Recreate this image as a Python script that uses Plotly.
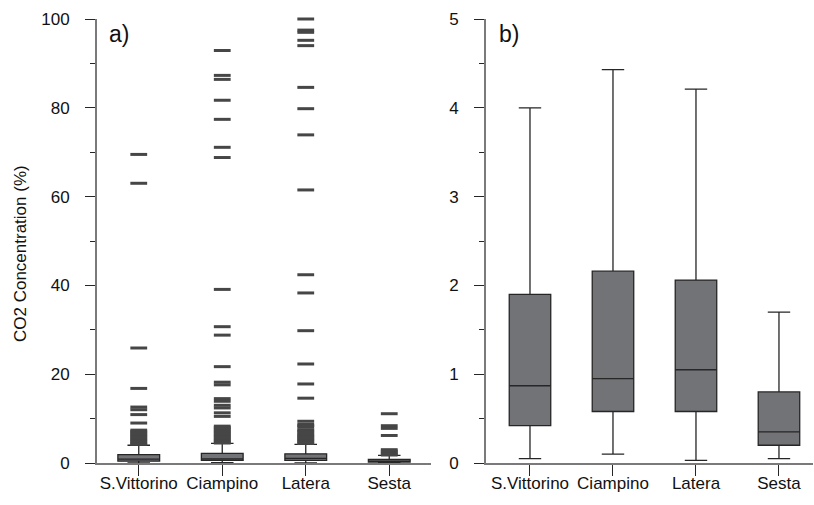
import plotly.graph_objects as go

sites = ["S.Vittorino", "Ciampino", "Latera", "Sesta"]

# box statistics (CO2 %)
q1 = [0.42, 0.58, 0.58, 0.20]
median = [0.87, 0.95, 1.05, 0.35]
q3 = [1.90, 2.16, 2.06, 0.80]
lower = [0.05, 0.10, 0.03, 0.05]
upper = [4.00, 4.43, 4.21, 1.70]

# outliers (panel a)
out_vittorino = [69.5, 63.0, 25.9, 16.8, 12.6, 12.0, 10.9, 9.0,
                 7.4, 7.1, 6.8, 6.5, 6.2, 5.9, 5.6, 5.3, 5.0, 4.7, 4.4, 4.2]
out_ciampino = [92.9, 87.3, 86.4, 81.7, 77.4, 71.1, 68.8, 39.1, 30.7, 28.8,
                21.7, 18.2, 17.6, 14.5, 13.9, 13.0, 12.4, 11.3, 10.5,
                8.3, 8.0, 7.7, 7.4, 7.1, 6.8, 6.5, 6.2, 5.9, 5.6, 5.3, 5.0, 4.7, 4.5]
out_latera = [100.0, 97.5, 97.0, 95.2, 94.0, 84.6, 79.8, 73.9, 61.5, 42.4, 38.3,
              29.8, 22.3, 17.8, 14.6, 9.4,
              8.7, 8.4, 8.1, 7.5, 7.2, 6.9, 6.5, 6.2, 5.9, 5.6, 5.3, 5.0, 4.7, 4.4]
out_sesta = [11.1, 8.4, 7.8, 6.2, 3.0, 2.7, 2.4, 2.1, 1.8]
outliers = [out_vittorino, out_ciampino, out_latera, out_sesta]

yticks_a = [0, 20, 40, 60, 80, 100]
yticks_b = [0, 1, 2, 3, 4, 5]

W, H = 814, 505
FONT = "Liberation Sans, Arial, sans-serif"
BOXFILL = "#727377"
LINE = "#262626"
AXIS = "#7a7a7a"
TXT = "#111111"

fig = go.Figure()

for xa, ya in [("x", "y"), ("x2", "y2")]:
    fig.add_trace(go.Box(
        x=sites, q1=q1, median=median, q3=q3,
        lowerfence=lower, upperfence=upper,
        width=0.5, whiskerwidth=0.54,
        fillcolor=BOXFILL, line=dict(color=LINE, width=1.3),
        boxpoints=False, showlegend=False, hoverinfo="skip",
        xaxis=xa, yaxis=ya,
    ))

for s, vals in zip(sites, outliers):
    fig.add_trace(go.Scatter(
        x=[s] * len(vals), y=vals, mode="markers",
        marker=dict(symbol="line-ew", size=12,
                    line=dict(color="#464646", width=3)),
        cliponaxis=False, showlegend=False, hoverinfo="skip",
        xaxis="x", yaxis="y",
    ))

xdom1 = [97 / W, 431 / W]
xdom2 = [486 / W, 813 / W]
ydom = [(H - 463) / H, (H - 19) / H]

common_x = dict(
    type="category", showline=True, linecolor=AXIS, linewidth=2,
    ticks="outside", ticklen=11, tickwidth=1.3, tickcolor=LINE,
    showgrid=False, zeroline=False, automargin=False,
    tickfont=dict(family=FONT, size=17, color=TXT),
    ticklabelstandoff=-7,
    categoryorder="array", categoryarray=sites,
)
common_y = dict(
    showline=True, linecolor=AXIS, linewidth=2,
    ticks="outside", ticklen=10, tickwidth=1.3, tickcolor=LINE,
    showgrid=False, zeroline=False, automargin=False,
    tickfont=dict(family=FONT, size=17, color=TXT),
    ticklabelstandoff=12,
)

fig.update_layout(
    width=W, height=H,
    margin=dict(l=0, r=0, t=0, b=0, pad=0),
    paper_bgcolor="white", plot_bgcolor="white",
    xaxis=dict(domain=xdom1, anchor="y", range=[-0.5, 3.5], **common_x),
    xaxis2=dict(domain=xdom2, anchor="y2", range=[-0.53, 3.41], **common_x),
    yaxis=dict(domain=ydom, anchor="x", range=[0, 100], tickvals=yticks_a,
               minor=dict(dtick=10, ticks="outside", ticklen=5,
                          tickcolor=LINE, tickwidth=1.3, showgrid=False),
               **common_y),
    yaxis2=dict(domain=ydom, anchor="x2", range=[0, 5], tickvals=yticks_b,
                minor=dict(dtick=0.5, ticks="outside", ticklen=5,
                           tickcolor=LINE, tickwidth=1.3, showgrid=False),
                **common_y),
    annotations=[
        dict(text="CO2 Concentration (%)", textangle=-90,
             x=20 / W, y=(H - 254) / H, xref="paper", yref="paper",
             showarrow=False, xanchor="center", yanchor="middle",
             font=dict(family=FONT, size=17, color=TXT)),
        dict(text="a)", x=119 / W, y=(H - 34) / H, xref="paper", yref="paper",
             showarrow=False, xanchor="center", yanchor="middle",
             font=dict(family=FONT, size=23, color=TXT)),
        dict(text="b)", x=509 / W, y=(H - 34) / H, xref="paper", yref="paper",
             showarrow=False, xanchor="center", yanchor="middle",
             font=dict(family=FONT, size=23, color=TXT)),
    ],
)

fig.write_html("out.html", config={"displayModeBar": False},
               post_script="document.body.style.margin='0px';document.body.style.padding='0px';")
